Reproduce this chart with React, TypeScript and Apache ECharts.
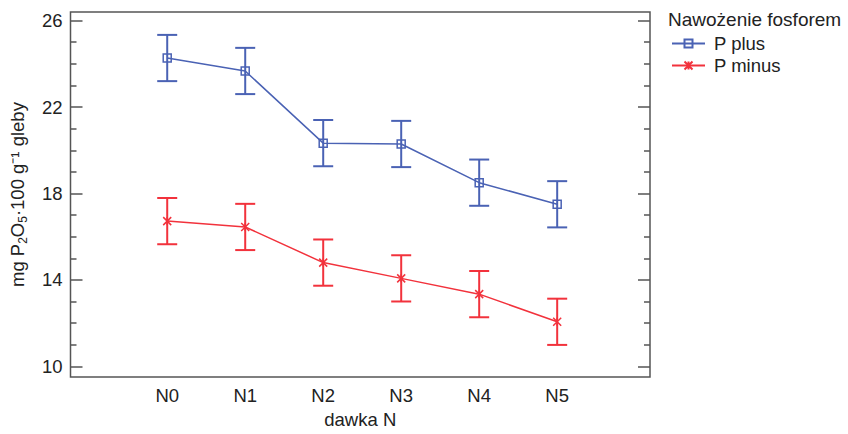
import React, { useEffect, useRef } from "react";
import * as echarts from "echarts";

const categories = ["N0", "N1", "N2", "N3", "N4", "N5"];
const pPlus = [24.27, 23.67, 20.33, 20.29, 18.5, 17.5];
const pPlusLow = [23.2, 22.6, 19.26, 19.22, 17.43, 16.43];
const pPlusHigh = [25.34, 24.74, 21.4, 21.36, 19.57, 18.57];
const pMinus = [16.72, 16.45, 14.8, 14.07, 13.34, 12.06];
const pMinusLow = [15.65, 15.38, 13.73, 13.0, 12.27, 10.99];
const pMinusHigh = [17.79, 17.52, 15.87, 15.14, 14.41, 13.13];
const majorTicks = [10, 14, 18, 22, 26];
const minorTicks = [11, 12, 13, 15, 16, 17, 19, 20, 21, 23, 24, 25];

const BLUE = "#4a62b4";
const RED = "#f2323c";
const AXIS = "#555555";
const TEXT = "#222222";
const FONT = "'Liberation Sans', Arial, sans-serif";
const FS = 18.5;

function errorSeries(name: string, low: number[], high: number[], color: string) {
  return {
    type: "custom",
    name: name + "_err",
    xAxisIndex: 0,
    yAxisIndex: 0,
    z: 3,
    encode: { x: 0, y: [1, 2] },
    data: low.map((l, i) => [i, l, high[i]]),
    renderItem: (params: any, api: any) => {
      const x = api.value(0);
      const top = api.coord([x, api.value(2)]);
      const bot = api.coord([x, api.value(1)]);
      const hw = 10;
      const style = { stroke: color, lineWidth: 2 };
      return {
        type: "group",
        children: [
          { type: "line", shape: { x1: top[0], y1: top[1], x2: bot[0], y2: bot[1] }, style },
          { type: "line", shape: { x1: top[0] - hw, y1: top[1], x2: top[0] + hw, y2: top[1] }, style },
          { type: "line", shape: { x1: bot[0] - hw, y1: bot[1], x2: bot[0] + hw, y2: bot[1] }, style },
        ],
      };
    },
  };
}

function yAx(position: string, ticks: number[], len: number) {
  return {
    type: "value",
    position,
    min: 9.5,
    max: 26.4,
    axisLine: { show: false, onZero: false },
    splitLine: { show: false },
    axisTick: {
      show: true,
      inside: true,
      length: len,
      customValues: ticks,
      lineStyle: { color: AXIS, width: 1.5 },
    },
    axisLabel: { show: false },
  };
}

export default function App() {
  const ref = useRef<HTMLDivElement>(null);
  useEffect(() => {
    if (!ref.current) return;
    const chart = echarts.init(ref.current, null, { renderer: "svg" });
    const option: any = {
      animation: false,
      backgroundColor: "#ffffff",
      textStyle: { fontFamily: FONT },
      grid: {
        left: 70,
        right: 198,
        top: 12,
        bottom: 52,
        show: true,
        borderColor: AXIS,
        borderWidth: 1.5,
        backgroundColor: "transparent",
      },
      graphic: [
        {
          type: "text",
          left: 668,
          top: 10,
          style: { text: "Nawożenie fosforem", fontSize: 19, fill: TEXT, fontFamily: FONT },
        },
      ],
      legend: {
        orient: "vertical",
        left: 671,
        top: 34,
        itemWidth: 33,
        itemHeight: 10,
        itemGap: 3,
        padding: [0, 0, 0, 0],
        textStyle: { fontSize: FS, color: TEXT, fontFamily: FONT, padding: [0, 0, 0, 4] },
        data: ["P plus", "P minus"],
      },
      xAxis: [
        {
          type: "value",
          min: -1.24,
          max: 6.19,
          name: "dawka N",
          nameLocation: "middle",
          nameGap: 32,
          nameTextStyle: { fontSize: FS, color: TEXT, fontFamily: FONT },
          axisLine: { show: false, onZero: false },
          splitLine: { show: false },
          axisTick: { show: false },
          axisLabel: {
            customValues: [0, 1, 2, 3, 4, 5],
            formatter: (v: number) => categories[Math.round(v)] ?? "",
            fontSize: FS,
            color: TEXT,
            margin: 9,
            fontFamily: FONT,
          },
        },
      ],
      yAxis: [
        {
          type: "value",
          position: "left",
          min: 9.5,
          max: 26.4,
          name: "mg P{sub|2}O{sub|5}·100 g⁻¹ gleby",
          nameLocation: "middle",
          nameRotate: 90,
          nameGap: 42,
          nameTextStyle: {
            fontSize: FS,
            color: TEXT,
            fontFamily: FONT,
            rich: {
              sub: { fontSize: 12, verticalAlign: "bottom", padding: [10, 0, 0, 0], fontFamily: FONT, color: TEXT },
            },
          },
          axisLine: { show: false, onZero: false },
          splitLine: { show: false },
          axisTick: {
            show: true,
            inside: true,
            length: 12,
            customValues: majorTicks,
            lineStyle: { color: AXIS, width: 1.5 },
          },
          axisLabel: {
            customValues: majorTicks,
            fontSize: FS,
            color: TEXT,
            margin: 8,
            fontFamily: FONT,
          },
        },
        yAx("left", minorTicks, 6),
        yAx("right", majorTicks, 12),
        yAx("right", minorTicks, 6),
      ],
      series: [
        errorSeries("P plus", pPlusLow, pPlusHigh, BLUE),
        errorSeries("P minus", pMinusLow, pMinusHigh, RED),
        {
          type: "line",
          name: "P plus",
          z: 4,
          data: pPlus.map((v, i) => [i, v]),
          symbol: "rect",
          symbolSize: 8,
          itemStyle: { color: "rgba(255,255,255,0)", borderColor: BLUE, borderWidth: 1.5 },
          lineStyle: { color: BLUE, width: 1.5 },
          color: BLUE,
        },
        {
          type: "line",
          name: "P minus",
          z: 4,
          data: pMinus.map((v, i) => [i, v]),
          symbol: "path://M0,0L10,10M10,0L0,10M5,0L5,10",
          symbolSize: 8,
          itemStyle: { color: "rgba(255,255,255,0)", borderColor: RED, borderWidth: 1.5 },
          lineStyle: { color: RED, width: 1.5 },
          color: RED,
        },
      ],
    };
    chart.setOption(option);
    return () => chart.dispose();
  }, []);
  return (
    <div
      ref={ref}
      style={{ position: "fixed", left: 0, top: 0, width: 848, height: 434 }}
    />
  );
}
